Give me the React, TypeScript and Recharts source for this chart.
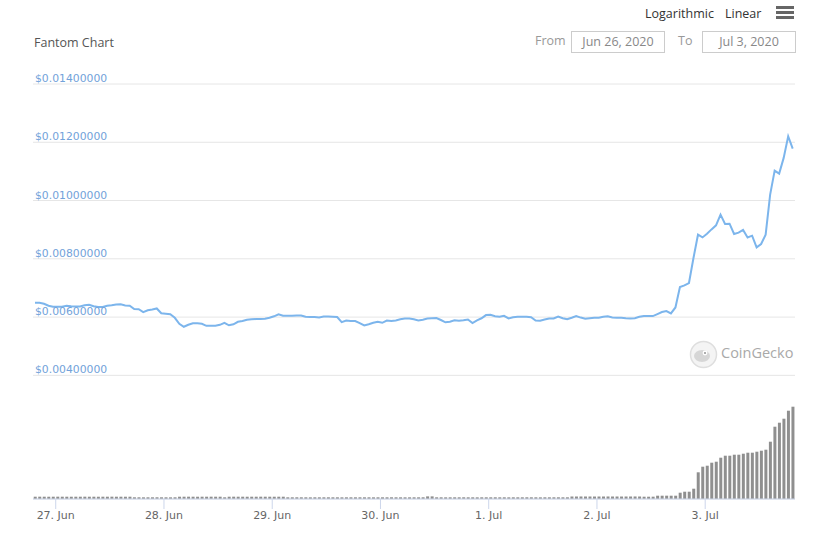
import React from "react";
import { ComposedChart, Line, Bar, XAxis, YAxis, CartesianGrid } from "recharts";

// hourly samples, first one at ~19:24 on Jun 26 (hours counted from Jun 26 00:00)
const START_HOUR = 19.4;

const price = [
  0.006491, 0.006491, 0.006457, 0.006388, 0.006354, 0.006354, 0.006354, 0.006388, 0.006371, 0.006364,
  0.006364, 0.006405, 0.006423, 0.006371, 0.006344, 0.006344, 0.006388, 0.006405, 0.00643, 0.00644,
  0.006399, 0.006388, 0.006275, 0.006268, 0.006172, 0.006234, 0.006258, 0.006296, 0.006131, 0.006113,
  0.006096, 0.005976, 0.00577, 0.005667, 0.005735, 0.005787, 0.005787, 0.00577, 0.005701, 0.005701,
  0.005701, 0.005735, 0.005804, 0.005718, 0.005753, 0.005838, 0.005863, 0.005907, 0.005924, 0.005931,
  0.005931, 0.005942, 0.005976, 0.006027, 0.006096, 0.006045, 0.006045, 0.006045, 0.006055, 0.006055,
  0.00601, 0.006, 0.006, 0.005986, 0.006017, 0.006021, 0.00601, 0.006, 0.005828, 0.005883,
  0.005863, 0.005863, 0.005794, 0.005711, 0.005753, 0.005804, 0.005838, 0.005804, 0.005883, 0.005863,
  0.005883, 0.005924, 0.005952, 0.005948, 0.005924, 0.005883, 0.005907, 0.005952, 0.005959, 0.005969,
  0.0059, 0.005821, 0.005838, 0.00589, 0.005873, 0.00589, 0.005918, 0.005794, 0.00589, 0.005959,
  0.006069, 0.006079, 0.006027, 0.00601, 0.006045, 0.005952, 0.005993, 0.00601, 0.00601, 0.00601,
  0.005993, 0.005883, 0.005873, 0.005914, 0.005948, 0.005952, 0.006021, 0.005959, 0.005924, 0.005976,
  0.006034, 0.005983, 0.005942, 0.005959, 0.005976, 0.005976, 0.00601, 0.006027, 0.005986, 0.005976,
  0.005976, 0.005959, 0.005952, 0.005959, 0.00601, 0.006034, 0.006034, 0.006034, 0.006103, 0.006172,
  0.006206, 0.006124, 0.00633, 0.007031, 0.007086, 0.007168, 0.008027, 0.008828, 0.008735, 0.008863,
  0.00901, 0.009148, 0.009515, 0.009196, 0.009206, 0.008852, 0.008897, 0.00899, 0.008735, 0.008794,
  0.008392, 0.008509, 0.008828, 0.010203, 0.011027, 0.010924, 0.011464, 0.012206, 0.011784,
];

// 24h volume, millions USD
const volume = [
  0.92, 0.93, 0.92, 0.91, 0.92, 0.93, 0.92, 0.92, 0.91, 0.92,
  0.92, 0.93, 0.92, 0.92, 0.91, 0.92, 0.92, 0.93, 0.92, 0.92,
  0.91, 0.92, 0.68, 0.68, 0.67, 0.68, 0.68, 0.69, 0.68, 0.68,
  0.67, 0.68, 0.92, 0.92, 0.93, 0.92, 0.91, 0.92, 0.92, 0.93,
  0.92, 0.92, 0.68, 0.92, 0.93, 0.92, 0.92, 0.91, 0.92, 0.92,
  0.93, 0.92, 0.92, 0.91, 0.92, 0.92, 0.68, 0.68, 0.69, 0.68,
  0.68, 0.67, 0.68, 0.68, 0.68, 0.69, 0.68, 0.68, 0.67, 0.68,
  0.68, 0.68, 0.69, 0.68, 0.68, 0.67, 0.68, 0.68, 0.68, 0.69,
  0.68, 0.68, 0.67, 0.68, 0.68, 0.68, 0.69, 1.05, 1.05, 0.68,
  0.68, 0.67, 0.68, 0.68, 0.68, 0.69, 0.68, 0.68, 0.67, 0.68,
  0.68, 0.68, 0.69, 0.68, 0.68, 0.67, 0.68, 0.68, 0.68, 0.69,
  0.68, 0.68, 0.67, 0.68, 0.68, 0.68, 0.69, 0.68, 0.68, 1.0,
  1.0, 1.01, 1.0, 1.0, 0.99, 1.0, 1.0, 1.01, 1.0, 1.0,
  0.99, 1.0, 1.0, 1.01, 1.0, 0.92, 0.92, 0.93, 1.32, 1.32,
  1.33, 1.32, 1.32, 2.52, 2.92, 2.92, 4.12, 10.68, 12.92, 13.32,
  14.52, 14.92, 16.52, 17.32, 17.32, 17.72, 17.72, 18.12, 18.52, 18.52,
  18.92, 19.32, 19.72, 22.92, 28.92, 30.52, 32.12, 35.32, 36.92,
];

const dayTicks = [24, 48, 72, 96, 120, 144, 168];
const dayLabels = ["27. Jun", "28. Jun", "29. Jun", "30. Jun", "1. Jul", "2. Jul", "3. Jul"];
const priceTicks = [0.004, 0.006, 0.008, 0.01, 0.012, 0.014];

const rows = price.map((p, i) => ({ t: START_HOUR + i, price: p, volume: volume[i] }));

const axisFont = "'DejaVu Sans', Verdana, sans-serif";
const uiFont = "'Open Sans', sans-serif";

const renderPriceTick = (props: any) => {
  const { y, payload } = props;
  return (
    <text key={payload.value} x={35} y={y - 2} fill="#72a2da" fontSize={10.8} fontFamily={axisFont}>
      {`$${Number(payload.value).toFixed(8)}`}
    </text>
  );
};

const inputBox: React.CSSProperties = {
  position: "absolute",
  top: 31,
  height: 20,
  width: 92,
  border: "1px solid #ccc",
  color: "#888",
  fontSize: 12.5,
  lineHeight: "20px",
  textAlign: "center",
  boxSizing: "content-box",
};

export default function App() {
  return (
    <div style={{ position: "absolute", left: 0, top: 0, width: 816, height: 542, background: "#fff", fontFamily: uiFont, overflow: "hidden" }}>
      <ComposedChart width={816} height={542} data={rows} margin={{ top: 84, right: 21, bottom: 23, left: 33 }}>
        <CartesianGrid yAxisId="price" vertical={false} stroke="#e6e6e6" />
        <XAxis
          dataKey="t"
          type="number"
          domain={[18.96, 187.91]}
          allowDataOverflow
          ticks={dayTicks}
          interval={0}
          height={20}
          tickSize={10}
          tickMargin={2}
          stroke="#ccd6eb"
          tick={{ fill: "#666", fontSize: 11, fontFamily: axisFont }}
          tickFormatter={(v) => dayLabels[dayTicks.indexOf(v)] ?? ""}
        />
        <YAxis
          yAxisId="price"
          mirror
          width={80}
          domain={[-0.000244, 0.014]}
          allowDataOverflow
          ticks={priceTicks}
          interval={0}
          axisLine={false}
          tickLine={false}
          tick={renderPriceTick}
        />
        <YAxis yAxisId="vol" hide domain={[0, 166]} allowDataOverflow />
        <Bar yAxisId="vol" dataKey="volume" fill="#8f8f8f" barSize={3} isAnimationActive={false} />
        <Line
          yAxisId="price"
          dataKey="price"
          type="linear"
          stroke="#7cb5ec"
          strokeWidth={2}
          dot={false}
          activeDot={false}
          isAnimationActive={false}
        />
      </ComposedChart>

      <span style={{ position: "absolute", left: 645, top: 5, fontSize: 12.5, lineHeight: "18px", color: "#333" }}>Logarithmic</span>
      <span style={{ position: "absolute", left: 725, top: 5, fontSize: 12.5, lineHeight: "18px", color: "#333" }}>Linear</span>
      <div style={{ position: "absolute", left: 776, top: 6, width: 18, height: 3, background: "#666" }} />
      <div style={{ position: "absolute", left: 776, top: 11, width: 18, height: 3, background: "#666" }} />
      <div style={{ position: "absolute", left: 776, top: 16, width: 18, height: 3, background: "#666" }} />

      <span style={{ position: "absolute", left: 34, top: 34, fontSize: 12.5, lineHeight: "18px", color: "#555" }}>Fantom Chart</span>
      <span style={{ position: "absolute", left: 535, top: 32, fontSize: 12.5, lineHeight: "18px", color: "#999" }}>From</span>
      <div style={{ ...inputBox, left: 571 }}>Jun 26, 2020</div>
      <span style={{ position: "absolute", left: 678, top: 32, fontSize: 12.5, lineHeight: "18px", color: "#999" }}>To</span>
      <div style={{ ...inputBox, left: 702 }}>Jul 3, 2020</div>

      <svg style={{ position: "absolute", left: 689, top: 340 }} width={30} height={30}>
        <circle cx={14.5} cy={14.5} r={13} fill="#f4f4f4" stroke="#dedede" strokeWidth={1.5} />
        <ellipse cx={13} cy={16} rx={8} ry={6} fill="#d6d6d6" />
        <circle cx={16} cy={13} r={2.4} fill="#fff" />
        <circle cx={16} cy={13} r={1.1} fill="#9a9a9a" />
      </svg>
      <span style={{ position: "absolute", left: 721, top: 343, fontSize: 14.5, lineHeight: "20px", color: "#a9a9a9" }}>CoinGecko</span>
    </div>
  );
}
